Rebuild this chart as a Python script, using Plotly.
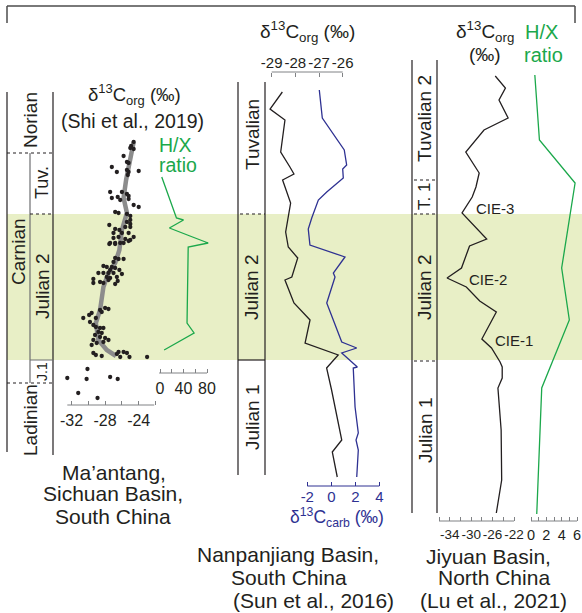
import plotly.graph_objects as go

W, H = 582, 613
FONT = "Liberation Sans, Arial, Helvetica, sans-serif"
BLACK = "#231F20"
GREEN = "#1BA84B"
BLUE = "#2E3192"
GRAY_AX = "#808285"
TREND = "#8C8C8C"
BAND = "#E8EFC6"

# ---------------- data (levels = relative stratigraphic position, top = small) ----------
# Ma'antang, Sichuan Basin: d13C_org scatter (Shi et al., 2019)
MA_LEVEL = [142, 146, 149, 148, 156, 162, 163, 167, 170, 172, 172, 171, 175, 192, 192, 194,
            196, 197, 198, 200, 199, 205, 207, 212, 213, 214, 216, 220, 222, 224, 225, 227,
            229, 230, 227, 233, 233, 233, 237, 238, 239, 237, 240, 243, 243, 243, 243, 244,
            244, 241, 258, 259, 259, 262, 266, 267, 267, 268, 270, 270, 273, 273, 273, 273,
            274, 277, 278, 277, 279, 282, 280, 281, 283, 283, 284, 308, 310, 309, 313, 312,
            315, 318, 318, 322, 325, 327, 328, 328, 332, 333, 335, 337, 338, 340, 340, 343,
            345, 342, 353, 355, 356, 352, 352, 353, 357, 357, 357, 354, 378, 369, 379, 377,
            379, 393, 398]
MA_D13C = [-24.6, -24.9, -24.6, -25.0, -25.8, -25.4, -25.2, -27.2, -25.4, -26.6, -25.2, -24.0,
           -25.3, -27.4, -26.0, -25.4, -25.2, -26.5, -27.2, -26.2, -25.2, -24.6, -24.0, -26.8,
           -26.4, -25.4, -25.0, -25.0, -25.4, -25.0, -27.5, -25.6, -26.8, -26.3, -25.0, -27.0,
           -26.0, -25.2, -26.4, -27.0, -25.6, -24.6, -25.0, -27.4, -26.8, -26.2, -25.8, -27.5,
           -26.8, -25.2, -26.8, -26.4, -25.8, -27.0, -28.2, -27.8, -27.2, -26.8, -27.4, -26.3,
           -28.8, -28.2, -27.6, -27.0, -26.0, -27.8, -27.4, -26.6, -29.4, -28.6, -27.6, -26.5,
           -29.4, -28.2, -26.8, -28.0, -28.6, -27.6, -29.6, -28.4, -29.9, -30.6, -29.1, -29.8,
           -29.4, -29.1, -28.6, -28.2, -28.8, -28.4, -29.2, -28.6, -28.0, -27.6, -29.4, -29.0,
           -29.6, -28.2, -29.4, -29.1, -28.4, -26.4, -25.8, -25.4, -26.2, -25.1, -23.0, -26.6,
           -32.5, -30.1, -30.2, -27.4, -26.5, -31.2, -28.9]
# smoothed trend
MA_TREND_LEVEL = [142, 150, 167, 180, 198, 213, 230, 250, 263, 273, 287, 310, 323, 340, 350, 356]
MA_TREND_D13C = [-24.6, -24.8, -25.2, -25.5, -25.8, -25.4, -26.0, -26.3, -26.8, -27.6, -28.2,
                 -28.6, -29.1, -28.8, -27.8, -26.7]
# H/X ratio
MA_HX_LEVEL = [177, 218, 220, 228, 236, 243, 247, 323, 333, 350]
MA_HX = [3, 28, 40, 16, 51, 82, 48, 46, 58, 7]

# Nanpanjiang Basin (Sun et al., 2016)
NP_ORG_LEVEL = [92, 109, 120, 152, 167, 174, 180, 203, 232, 247, 258, 277, 280, 303, 320, 343,
                355, 368, 390, 440, 452, 477]
NP_D13C_ORG = [-28.55, -29.07, -28.44, -28.62, -28.23, -28.06, -28.54, -28.2, -28.41, -28.3,
               -27.9, -28.15, -28.44, -28.06, -27.38, -27.59, -26.19, -26.68, -26.47, -26.04,
               -26.44, -26.23]
NP_CARB_LEVEL = [90, 118, 150, 165, 169, 178, 192, 200, 218, 229, 245, 257, 273, 277, 303, 342,
                 348, 353, 367, 368, 407, 433, 440, 450, 477]
NP_D13C_CARB = [-1.0, -0.75, 1.08, 1.28, 0.95, 1.0, -0.38, -1.08, -1.63, -1.92, -1.78, 1.14,
                0.17, 0.31, -0.38, 0.87, 2.12, 0.87, 2.17, 1.83, 1.98, 2.25, 2.06, 2.25, 2.12]

# Jiyuan Basin (Lu et al., 2021)
JY_ORG_LEVEL = [76, 88, 100, 118, 130, 152, 173, 180, 187, 197, 207, 213, 239, 246, 268, 278,
                287, 301, 312, 339, 348, 362, 367, 378, 388, 430, 480, 493, 513]
JY_D13C_ORG = [-25.5, -23.6, -24.8, -23.1, -27.6, -31.0, -28.5, -28.8, -29.1, -29.8, -31.0,
               -31.7, -27.1, -30.3, -31.8, -34.5, -30.9, -28.4, -25.3, -28.0, -26.2, -24.6,
               -24.2, -24.2, -25.0, -24.4, -24.3, -24.7, -25.3]
JY_HX_LEVEL = [75, 140, 183, 268, 320, 388, 514]
JY_HX = [0.5, 1.1, 5.75, 4.0, 5.0, 1.4, 0.75]

# tick values (major = labelled, minor = unlabelled)
MA_C_TICKS = [-32, -28, -24]
MA_C_MINOR = [-30, -26, -22]
MA_HX_TICKS = [0, 40, 80]
MA_HX_MINOR = [20, 60]
NP_ORG_TICKS = [-29, -28, -27, -26]
NP_ORG_MINOR = []
NP_CARB_TICKS = [-2, 0, 2, 4]
NP_CARB_MINOR = []
JY_ORG_TICKS = [-34, -30, -26, -22]
JY_ORG_MINOR = [-36, -32, -28, -24]
JY_HX_TICKS = [0, 2, 4, 6]
JY_HX_MINOR = [1, 3, 5]


def fx(p):
    return p / W


def fy(p):
    return 1 - p / H


def axis_range(p_a, v_a, p_b, v_b):
    k = (v_b - v_a) / (p_b - p_a)
    return [v_a - p_a * k, v_a + (W - p_a) * k]


def tick_text(vals):
    return ["%g" % v if v >= 0 else "-%g" % abs(v) for v in vals]


fig = go.Figure()

# traces
fig.add_trace(go.Scatter(x=MA_TREND_D13C, y=MA_TREND_LEVEL, mode="lines",
                         line=dict(color=TREND, width=4.5), xaxis="x2", yaxis="y"))
fig.add_trace(go.Scatter(x=MA_D13C, y=MA_LEVEL, mode="markers",
                         marker=dict(color=BLACK, size=4.3), xaxis="x2", yaxis="y"))
fig.add_trace(go.Scatter(x=MA_HX, y=MA_HX_LEVEL, mode="lines",
                         line=dict(color=GREEN, width=1.3), xaxis="x3", yaxis="y"))
fig.add_trace(go.Scatter(x=NP_D13C_ORG, y=NP_ORG_LEVEL, mode="lines",
                         line=dict(color=BLACK, width=1.3), xaxis="x4", yaxis="y"))
fig.add_trace(go.Scatter(x=NP_D13C_CARB, y=NP_CARB_LEVEL, mode="lines",
                         line=dict(color=BLUE, width=1.3), xaxis="x5", yaxis="y"))
fig.add_trace(go.Scatter(x=JY_D13C_ORG, y=JY_ORG_LEVEL, mode="lines",
                         line=dict(color=BLACK, width=1.3), xaxis="x6", yaxis="y"))
fig.add_trace(go.Scatter(x=JY_HX, y=JY_HX_LEVEL, mode="lines",
                         line=dict(color=GREEN, width=1.3), xaxis="x7", yaxis="y"))

axes_spec = {
    # name: (anchor pixel/value pairs, axis level, side, ticks, minor, colour, line extent, font, standoff)
    "xaxis2": ((71.5, -32, 138.7, -24), 405, "bottom", MA_C_TICKS, MA_C_MINOR, BLACK, (-32.5, -22.15), 16, 4),
    "xaxis3": ((160, 0, 207, 80), 373, "bottom", MA_HX_TICKS, MA_HX_MINOR, BLACK, (-1.5, 80), 16, 4),
    "xaxis4": ((271.7, -29, 342.7, -26), 72, "top", NP_ORG_TICKS, NP_ORG_MINOR, BLACK, (-29, -26), 15, 1),
    "xaxis5": ((307.3, -2, 379.3, 4), 486, "bottom", NP_CARB_TICKS, NP_CARB_MINOR, BLUE, (-2, 4), 15, 0),
    "xaxis6": ((439, -36, 514, -22), 521, "bottom", JY_ORG_TICKS, JY_ORG_MINOR, BLACK, (-36, -22), 13.5, 3),
    "xaxis7": ((531, 0, 577, 6), 521, "bottom", JY_HX_TICKS, JY_HX_MINOR, BLACK, (0, 6), 14.5, 3),
}

layout_axes = {}
shapes = []
for name, (anc, lvl, side, tv, mv, col, ext, fs, so) in axes_spec.items():
    tickcol = BLUE if col == BLUE else GRAY_AX
    ax = dict(
        overlaying="x", anchor="free", position=fy(lvl), side=side,
        range=axis_range(*anc), tickmode="array", tickvals=tv, ticktext=tick_text(tv),
        ticks="inside", ticklen=4, tickwidth=1, tickcolor=tickcol, tickangle=0,
        showline=False, showgrid=False, zeroline=False,
        tickfont=dict(family=FONT, size=fs, color=col), ticklabelstandoff=so,
    )
    if mv:
        ax["minor"] = dict(tickmode="array", tickvals=mv, ticks="inside", ticklen=4,
                           tickwidth=1, tickcolor=tickcol, showgrid=False)
    layout_axes[name] = ax
    ref = "x" + name[5:]
    shapes.append(dict(type="line", xref=ref, yref="y", x0=ext[0], x1=ext[1], y0=lvl, y1=lvl,
                       line=dict(color=tickcol, width=1)))

# green band (Julian 2 interval)
shapes.insert(0, dict(type="rect", xref="paper", yref="y", x0=fx(7), x1=1, y0=214, y1=360,
                      fillcolor=BAND, line=dict(width=0), layer="below"))


def pline(x0, y0, x1, y1, color=BLACK, width=1.2, dash="solid"):
    shapes.append(dict(type="line", xref="paper", yref="paper", x0=fx(x0), x1=fx(x1),
                       y0=fy(y0), y1=fy(y1), line=dict(color=color, width=width, dash=dash)))


# top bracket
pline(7, 6, 575, 6, "#4D4D4D", 1.5)
pline(7, 6, 7, 23, "#4D4D4D", 1.5)
pline(575, 6, 575, 23, "#4D4D4D", 1.5)

# Ma'antang column
pline(7, 92, 7, 452)
pline(53, 92, 53, 455)
pline(30, 153, 30, 383, "#6D6E71", 1.2)
pline(7, 153, 53, 153, BLACK, 1.2, "dot")
pline(30, 214, 53, 214, BLACK, 1.2, "dot")
pline(30, 360, 53, 360, "#6D6E71", 1.0)
pline(7, 383, 53, 383, BLACK, 1.2, "dot")

# Nanpanjiang column
pline(238, 82, 238, 475)
pline(265, 82, 265, 475)
pline(240, 214, 265, 214, BLACK, 1.2, "dot")
pline(238, 360, 265, 360, BLACK, 1.2)

# Jiyuan column
pline(412, 60, 412, 513)
pline(437, 60, 437, 513)
for yy in (180, 214, 361):
    pline(414, yy, 437, yy, BLACK, 1.2, "dot")

annotations = []


def ann(text, x, y, size=18, color=BLACK, angle=0, xanchor="center"):
    annotations.append(dict(text=text, x=fx(x), y=fy(y), xref="paper", yref="paper",
                            showarrow=False, textangle=angle, xanchor=xanchor, yanchor="middle",
                            font=dict(family=FONT, size=size, color=color)))


D13C_ORG = "δ<sup>13</sup>C<sub>org</sub>"

# Ma'antang
ann(D13C_ORG + " (‰)", 134, 95, 18.5)
ann("(Shi et al., 2019)", 132, 121, 19.5)
ann("H/X", 175, 145, 19.5, GREEN)
ann("ratio", 178, 165, 19.5, GREEN)
ann("Norian", 30, 120, 19, angle=-90)
ann("Tuv.", 42, 182, 18, angle=-90)
ann("Carnian", 18, 252, 19, angle=-90)
ann("Julian 2", 42, 286, 19, angle=-90)
ann("J.1", 42, 371, 14, angle=-90)
ann("Ladinian", 30, 420, 19, angle=-90)
ann("Ma’antang,", 114, 472, 21)
ann("Sichuan Basin,", 113, 494, 21)
ann("South China", 113, 516, 21)

# Nanpanjiang
ann(D13C_ORG + " (‰)", 307, 32, 19)
ann("Tuvalian", 252, 135, 19, angle=-90)
ann("Julian 2", 252, 287, 19, angle=-90)
ann("Julian 1", 252, 417, 19, angle=-90)
ann("δ<sup>13</sup>C<sub>carb</sub> (‰)", 337, 517, 17.5, BLUE)
ann("Nanpanjiang Basin,", 288, 554, 21)
ann("South China", 289, 577, 21)
ann("(Sun et al., 2016)", 313, 600, 21)

# Jiyuan
ann(D13C_ORG, 485, 32, 19)
ann("(‰)", 485, 55, 19)
ann("H/X", 541, 32, 20, GREEN)
ann("ratio", 543, 55, 20, GREEN)
ann("Tuvalian 2", 425, 119, 19, angle=-90)
ann("T. 1", 425, 197, 17, angle=-90)
ann("Julian 2", 425, 287, 19, angle=-90)
ann("Julian 1", 425, 430, 19, angle=-90)
ann("CIE-3", 474, 209, 15, xanchor="left")
ann("CIE-2", 467, 280, 15, xanchor="left")
ann("CIE-1", 493, 340, 15, xanchor="left")
ann("Jiyuan Basin,", 488, 556, 21)
ann("North China", 494, 577, 21)
ann("(Lu et al., 2021)", 493, 600, 21)

fig.update_layout(
    width=W, height=H, margin=dict(l=0, r=0, t=0, b=0),
    paper_bgcolor="white", plot_bgcolor="rgba(0,0,0,0)", showlegend=False,
    xaxis=dict(domain=[0, 1], range=[0, W], visible=False, fixedrange=True),
    yaxis=dict(domain=[0, 1], range=[H, 0], visible=False, fixedrange=True),
    shapes=shapes, annotations=annotations,
    **layout_axes,
)

fig.write_html("out.html", config={"displayModeBar": False, "staticPlot": True},
               post_script="document.body.style.margin='0px';document.body.style.overflow='hidden';")
